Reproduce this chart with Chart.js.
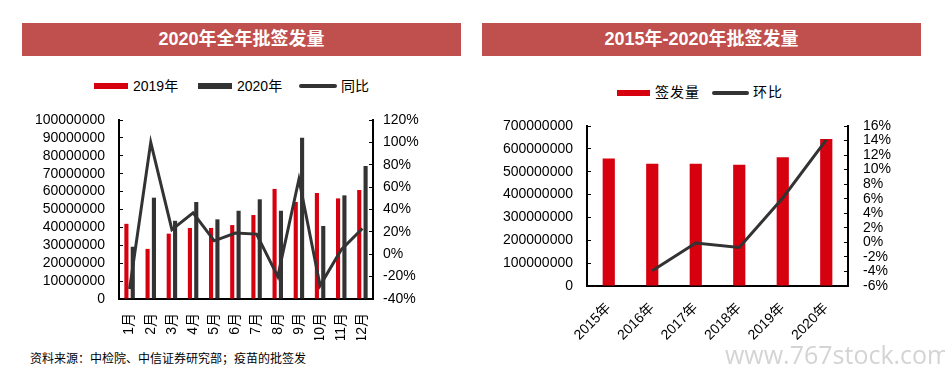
<!DOCTYPE html>
<html><head><meta charset="utf-8">
<script src="https://cdn.jsdelivr.net/npm/chart.js@4/dist/chart.umd.min.js"></script>
<style>
html,body{margin:0;padding:0;}
body{width:945px;height:381px;background:#fff;position:relative;overflow:hidden;font-family:"Liberation Sans","Noto Sans CJK SC",sans-serif;}
.title{position:absolute;top:23px;height:33px;background:#C0504D;color:#fff;font-weight:bold;font-size:18px;line-height:33px;text-align:center;}
.lt{position:absolute;font-size:14px;color:#000;line-height:16px;white-space:nowrap;}
.sw{position:absolute;height:6px;}
.ln{position:absolute;height:4px;border-radius:2px;background:#333;}
canvas{position:absolute;}
.src{position:absolute;left:30px;top:349px;font-size:12px;color:#000;white-space:nowrap;}
.wm{position:absolute;left:725px;top:337px;font-family:"Open Sans",sans-serif;font-size:25px;color:#d4d4d4;white-space:nowrap;}
</style>
</head><body>
<div class="title" style="left:22px;width:439px;">2020年全年批签发量</div>
<div class="title" style="left:482px;width:439px;">2015年-2020年批签发量</div>

<div class="sw" style="left:94px;top:83px;width:34px;background:#D7000F;"></div>
<div class="lt" style="left:133px;top:78px;">2019年</div>
<div class="sw" style="left:198px;top:83px;width:34px;background:#333;"></div>
<div class="lt" style="left:237px;top:78px;">2020年</div>
<div class="ln" style="left:299px;top:84px;width:38px;"></div>
<div class="lt" style="left:341px;top:78px;">同比</div>

<div class="sw" style="left:617px;top:90px;width:33px;background:#D7000F;"></div>
<div class="lt" style="left:655px;top:84px;letter-spacing:1px;">签发量</div>
<div class="ln" style="left:712px;top:91px;width:37px;"></div>
<div class="lt" style="left:753px;top:84px;letter-spacing:1px;">环比</div>

<canvas id="c1" width="460" height="230" style="left:0;top:110px;width:460px;height:230px;"></canvas>
<canvas id="c2" width="475" height="240" style="left:470px;top:110px;width:475px;height:240px;"></canvas>

<div class="src">资料来源：中检院、中信证券研究部；疫苗的批签发</div>
<div class="wm">www.767stock.com</div>

<script>
// ---- data: monthly chart ----
const months = ['1月','2月','3月','4月','5月','6月','7月','8月','9月','10月','11月','12月'];
const issued2019 = [42000000, 28000000, 36500000, 39700000, 39700000, 41300000, 46900000, 61500000, 54200000, 59200000, 56200000, 60900000];
const issued2020 = [29200000, 56600000, 43700000, 54200000, 44500000, 49300000, 55700000, 49300000, 90100000, 40800000, 57900000, 74300000];
const yoyPct = [-31, 100, 22, 37, 12, 19, 18, -20, 67, -28, 4, 23];

// ---- data: annual chart ----
const years = ['2015年','2016年','2017年','2018年','2019年','2020年'];
const annualIssued = [558000000, 535000000, 535000000, 531000000, 563000000, 643000000];
const chainPct = [null, -3.9, -0.1, -0.7, 6.1, 14.1];

const FONT = '"Liberation Sans","Noto Sans CJK SC",sans-serif';
const RED = '#D7000F', DARK = '#333333';
Chart.defaults.font.family = FONT;
Chart.defaults.color = '#000';

function zeroPad(s) { s.paddingTop = 0; s.paddingBottom = 0; s.paddingLeft = 0; s.paddingRight = 0; }

function yAxis(pos, min, max, step, width, pad, fmt) {
  return {
    position: pos, min: min, max: max,
    grid: {drawOnChartArea: false, drawTicks: true, tickLength: -4, color: '#000', lineWidth: 1},
    border: {display: true, color: '#000', width: 2},
    ticks: {stepSize: step, autoSkip: false, padding: pad, font: {size: 14, family: FONT}, color: '#000', callback: fmt},
    afterFit: s => { s.width = width; zeroPad(s); }
  };
}

new Chart(document.getElementById('c1'), {
  type: 'bar',
  data: {
    labels: months,
    datasets: [
      {type: 'line', label: '同比', data: yoyPct, yAxisID: 'y1', borderColor: DARK, borderWidth: 3, pointRadius: 0, tension: 0, fill: false, order: 0},
      {label: '2019年', data: issued2019, backgroundColor: RED, yAxisID: 'y', categoryPercentage: 0.6, barPercentage: 0.65, order: 1},
      {label: '2020年', data: issued2020, backgroundColor: DARK, yAxisID: 'y', categoryPercentage: 0.6, barPercentage: 0.65, order: 1}
    ]
  },
  options: {
    responsive: false, animation: false,
    layout: {padding: {top: 10, left: 0, right: 0, bottom: 0}},
    plugins: {legend: {display: false}, tooltip: {enabled: false}},
    scales: {
      x: {
        grid: {display: false},
        border: {display: true, color: '#000', width: 2},
        ticks: {minRotation: 90, maxRotation: 90, autoSkip: false, padding: 6, font: {size: 14, family: FONT}, color: '#000'},
        afterFit: s => { s.height = 41; zeroPad(s); }
      },
      y: yAxis('left', 0, 100000000, 10000000, 119, 18, v => String(v)),
      y1: yAxis('right', -40, 120, 20, 87, 14, v => v + '%')
    }
  }
});

new Chart(document.getElementById('c2'), {
  type: 'bar',
  data: {
    labels: years,
    datasets: [
      {type: 'line', label: '环比', data: chainPct, yAxisID: 'y1', borderColor: DARK, borderWidth: 3, pointRadius: 0, tension: 0, fill: false, spanGaps: false, order: 0},
      {label: '签发量', data: annualIssued, backgroundColor: RED, yAxisID: 'y', categoryPercentage: 1, barPercentage: 0.28, order: 1}
    ]
  },
  options: {
    responsive: false, animation: false,
    layout: {padding: {top: 16, left: 0, right: 0, bottom: 0}},
    plugins: {legend: {display: false}, tooltip: {enabled: false}},
    scales: {
      x: {
        grid: {display: false},
        border: {display: true, color: '#000', width: 2},
        ticks: {minRotation: 45, maxRotation: 45, autoSkip: false, padding: 6, font: {size: 14, family: FONT}, color: '#000'},
        afterFit: s => { s.height = 64; zeroPad(s); }
      },
      y: yAxis('left', 0, 700000000, 100000000, 117, 18, v => String(v)),
      y1: yAxis('right', -6, 16, 2, 97, 19, v => v + '%')
    }
  }
});
</script>
</body></html>
